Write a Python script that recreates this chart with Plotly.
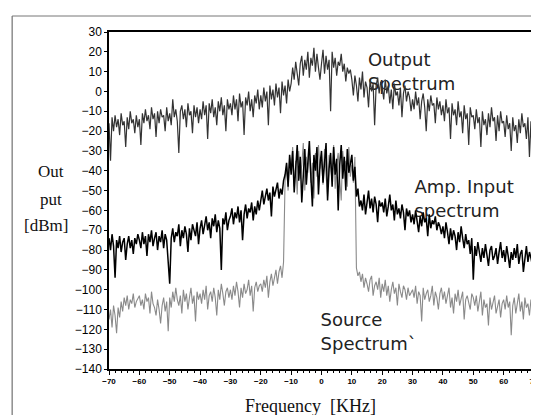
import plotly.graph_objects as go

# frequency grid, 0.5 kHz steps from -70 to 70
freq = [-70 + 0.5 * i for i in range(281)]

# Output spectrum [dBm]
output_spec = [
    -16, -35, -13, -20, -12, -18, -14, -22, -11, -17, -15, -28, -13, -19, -10, -16, -14, -21, -12, -18,
    -14, -27, -11, -16, -9, -15, -12, -19, -8, -14, -11, -23, -10, -16, -9, -13, -12, -20, -8, -15,
    -11, -17, -4, -13, -9, -15, -31, -10, -7, -14, -9, -18, -6, -12, -10, -21, -7, -13, -8, -16,
    -9, -14, -5, -12, -7, -24, -6, -11, -4, -13, -8, -17, -5, -10, -3, -12, -7, -20, -4, -9,
    -6, -12, -2, -9, -4, -15, -1, -8, -5, -22, -3, -7, 0, -10, -4, -13, -2, -6, 1, -9,
    -2, -8, 2, -5, 0, -17, 3, -4, 1, -7, 4, -3, 2, -11, 5, -2, 3, -6, 6, 0,
    4, 12, 6, 15, 9, 3, 14, 18, 8, 16, 11, 20, 7, 17, 13, 22, 10, 19, 12, 6,
    14, 21, 9, 18, 11, 16, -10, 20, 12, 17, 8, 15, 13, 19, 10, 14, 5, 12, 9, 11,
    6, -2, 8, 3, -5, 7, 1, 10, -3, 5, 2, -8, 6, 0, 4, -17, 3, 7, -1, 5,
    2, -4, 6, -1, 3, -6, 1, -9, 4, -2, 0, -7, 2, -13, -1, 3, -5, 0, -3, -10,
    -4, -9, 0, -7, -3, -14, -5, -1, -8, -20, -4, -10, -2, -7, -6, -16, -3, -9, -5, -12,
    -7, -15, -4, -11, -8, -24, -6, -12, -9, -17, -5, -13, -10, -21, -7, -14, -11, -27, -8, -13,
    -12, -19, -9, -16, -13, -28, -10, -17, -14, -22, -11, -18, -8, -15, -13, -25, -12, -20, -10, -16,
    -15, -23, -12, -19, -16, -30, -13, -20, -17, -26, -14, -21, -11, -18, -16, -24, -13, -33, -15, -37,
    -19,
]

# Amplifier input spectrum [dBm]
amp_input = [
    -74, -80, -72, -78, -94, -75, -79, -73, -81, -76, -74, -85, -77, -73, -79, -75, -82, -74, -77, -72,
    -75, -79, -71, -77, -73, -83, -72, -76, -70, -78, -74, -71, -80, -73, -76, -70, -79, -72, -75, -88,
    -97, -74, -69, -76, -71, -73, -67, -78, -70, -74, -68, -72, -81, -69, -75, -67, -71, -73, -66, -77,
    -69, -65, -72, -67, -63, -70, -66, -74, -64, -68, -62, -71, -65, -69, -90, -64, -67, -61, -70, -65,
    -63, -59, -67, -61, -64, -58, -66, -60, -75, -62, -57, -64, -59, -61, -56, -65, -58, -62, -55, -60,
    -54, -50, -57, -52, -49, -55, -51, -63, -48, -53, -50, -46, -54, -49, -52, -45, -42, -36, -48, -32,
    -42, -30, -51, -36, -27, -45, -33, -56, -38, -29, -47, -35, -25, -43, -58, -32, -40, -28, -52, -37,
    -30, -46, -35, -26, -55, -39, -31, -48, -28, -42, -34, -60, -37, -27, -44, -33, -50, -29, -41, -36,
    -32, -45, -38, -53, -49, -58, -55, -60, -52, -62, -56, -50, -59, -54, -61, -53, -57, -66, -55, -58,
    -56, -61, -54, -63, -58, -52, -60, -57, -65, -55, -62, -59, -64, -57, -61, -70, -59, -63, -60, -66,
    -62, -67, -60, -65, -71, -63, -68, -61, -66, -64, -73, -62, -69, -65, -67, -63, -70, -66, -68, -72,
    -68, -74, -66, -71, -77, -69, -75, -70, -73, -80, -71, -76, -68, -74, -79, -72, -77, -75, -82, -74,
    -95, -78, -83, -76, -81, -86, -79, -84, -77, -82, -88, -80, -78, -85, -83, -79, -87, -81, -76, -84,
    -80, -86, -78, -83, -89, -81, -85, -79, -84, -77, -87, -82, -80, -91, -83, -78, -86, -81, -84, -88,
    -83,
]

# Source spectrum [dBm]
source_spec = [
    -115, -110, -119, -108, -113, -122, -109, -114, -106, -111, -104, -108, -103, -110, -105, -107, -102, -109, -106, -104,
    -103, -108, -105, -110, -102, -106, -104, -112, -101, -107, -109, -113, -105, -110, -117, -108, -104, -111, -106, -121,
    -104, -109, -101, -106, -99, -105, -108, -103, -112, -100, -106, -102, -110, -104, -99, -107, -103, -116, -101, -105,
    -102, -107, -100, -105, -98, -110, -103, -101, -106, -99, -104, -113, -100, -105, -97, -102, -108, -101, -99, -104,
    -100, -105, -98, -103, -96, -101, -109, -99, -104, -97, -102, -100, -95, -103, -98, -111, -99, -96, -101, -98,
    -97, -101, -95, -99, -93, -104, -96, -92, -98, -94, -90, -97, -91, -88, -94, -86, -45, -38, -50, -33,
    -40, -28, -48, -35, -52, -30, -44, -37, -26, -50, -33, -41, -29, -46, -36, -54, -31, -43, -27, -39,
    -34, -47, -29, -42, -53, -32, -38, -45, -27, -49, -36, -31, -44, -55, -30, -40, -35, -48, -28, -43,
    -37, -46, -33, -89, -93, -91, -96, -92, -99, -94, -97, -101, -95, -93, -103, -98, -96, -100, -94, -104,
    -97, -101, -95, -103, -98, -106, -100, -96, -102, -99, -108, -97, -101, -104, -98, -100, -105, -99, -103, -101,
    -100, -104, -98, -107, -101, -103, -116, -99, -105, -102, -100, -106, -103, -98, -108, -101, -104, -110, -102, -99,
    -105, -101, -107, -103, -99, -109, -104, -112, -102, -106, -100, -108, -104, -101, -115, -105, -103, -107, -110, -102,
    -104, -108, -103, -111, -106, -101, -113, -105, -109, -107, -118, -104, -110, -106, -103, -112, -108, -105, -114, -107,
    -105, -110, -103, -109, -106, -123, -108, -104, -112, -107, -102, -111, -106, -115, -104, -109, -107, -113, -105, -110,
    -108,
]

# labels sitting behind the traces
label_text = ['Output<br>Spectrum', 'Amp. Input<br>spectrum', 'Source<br>Spectrum`']
label_x = [15.3, 30.6, -0.3]
label_y = [9, -55, -122]

x_ticks = list(range(-70, 71, 10))
y_ticks = list(range(-140, 31, 10))

fig = go.Figure()

fig.add_trace(go.Scatter(
    x=label_x, y=label_y, text=label_text, mode='text',
    textposition='middle right', cliponaxis=False,
    textfont=dict(family='DejaVu Sans', size=18, color='#222'),
    hoverinfo='skip', showlegend=False))

fig.add_trace(go.Scatter(x=freq, y=source_spec, mode='lines',
                         line=dict(color='#8a8a8a', width=1.1), showlegend=False))
fig.add_trace(go.Scatter(x=freq, y=amp_input, mode='lines',
                         line=dict(color='#000000', width=1.5), showlegend=False))
fig.add_trace(go.Scatter(x=freq, y=output_spec, mode='lines',
                         line=dict(color='#333333', width=1.2), showlegend=False))

# y axis title, three stacked pieces like the original
for txt, px_x, px_y in [('Out', 42, 163), ('put', 42, 191), ('[dBm]', 37, 217)]:
    fig.add_annotation(text=txt, xref='paper', yref='paper',
                       x=(px_x - 101) / 430, y=(361 - px_y) / 337,
                       showarrow=False, xanchor='center', yanchor='middle',
                       font=dict(family='Liberation Serif', size=17, color='#111'))

fig.add_annotation(text='Frequency\u00a0\u00a0[KHz]', xref='paper', yref='paper',
                   x=(305 - 101) / 430, y=(361 - 398) / 337,
                   showarrow=False, xanchor='center', yanchor='middle',
                   font=dict(family='Liberation Serif', size=18, color='#111'))

# thin frame of the scanned figure
fig.add_shape(type='line', xref='paper', yref='paper',
              x0=(3 - 101) / 430, x1=(3 - 101) / 430,
              y0=(361 - 415) / 337, y1=(361 - 8) / 337,
              line=dict(color='#555', width=1))
fig.add_shape(type='line', xref='paper', yref='paper',
              x0=(3 - 101) / 430, x1=(539 - 101) / 430,
              y0=(361 - 8) / 337, y1=(361 - 8) / 337,
              line=dict(color='#777', width=1))

fig.update_xaxes(range=[-70, 70], tickvals=x_ticks, ticks='outside', ticklen=4,
                 tickcolor='black', showline=True, mirror=True, linecolor='black',
                 linewidth=1.5, showgrid=False, zeroline=False,
                 tickfont=dict(family='Liberation Sans', size=8, color='black', weight='bold'),
                 minor=dict(dtick=2, ticks='outside', ticklen=2, tickcolor='black'))
fig.update_yaxes(range=[-140, 30], tickvals=y_ticks, ticks='outside', ticklen=3,
                 tickcolor='black', showline=True, mirror=True, linecolor='black',
                 linewidth=1.5, showgrid=False, zeroline=False,
                 tickfont=dict(family='Liberation Sans', size=12, color='black'))

fig.update_layout(width=539, height=415,
                  margin=dict(l=101, r=8, t=24, b=54),
                  plot_bgcolor='white', paper_bgcolor='white')

fig.write_html("out.html")
